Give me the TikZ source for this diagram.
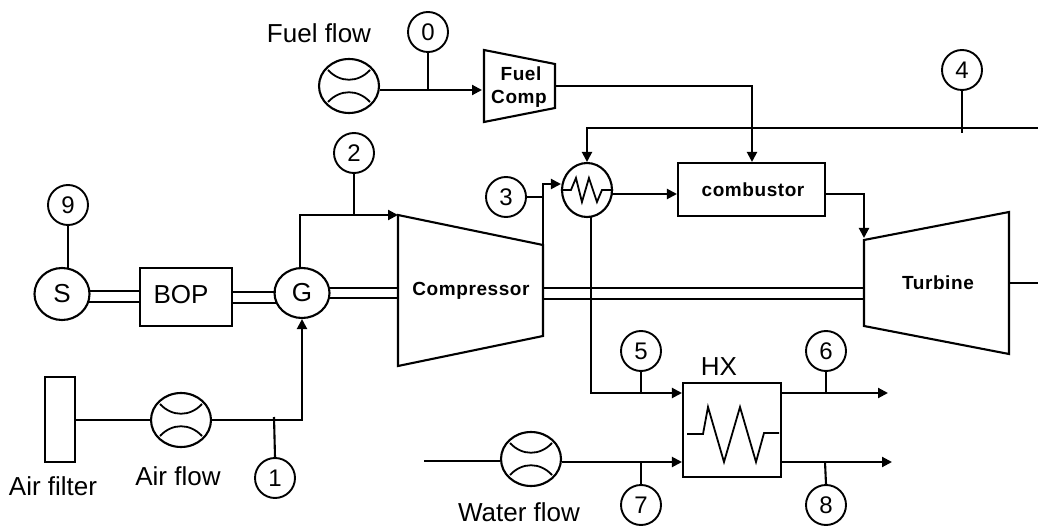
\documentclass[tikz,border=0pt]{standalone}
\usepackage{fontspec}
\setmainfont{Liberation Sans}
\newfontfamily\boldspaced[LetterSpace=3]{Liberation Sans Bold}
\usetikzlibrary{arrows.meta,shapes.geometric,calc}
\tikzset{
  ln/.style={line width=2.1pt,line join=miter},
  arr/.style={ln,-{Triangle[length=10pt,width=10pt]}},
  tag/.style={circle,draw,line width=1.9pt,minimum size=40pt,inner sep=0pt,font=\fontsize{24}{26}\selectfont},
  oval/.style={ellipse,draw,ln,inner sep=0pt},
  meter/.style={oval,minimum width=60pt,minimum height=54pt},
  box/.style={rectangle,draw,ln,inner sep=0pt},
  lbl/.style={inner sep=0pt,font=\fontsize{26}{28}\selectfont},
  blbl/.style={inner sep=0pt,font=\boldspaced\fontsize{19}{22}\selectfont,align=center},
}
\newcommand{\metercurves}[1]{%
  \draw[ln,line width=1.8pt] ($(#1.center)+(-21,-16)$) .. controls ($(#1.center)+(-9,-3)$) and ($(#1.center)+(9,-3)$) .. ($(#1.center)+(21,-16)$);
  \draw[ln,line width=1.8pt] ($(#1.center)+(-21,16)$) .. controls ($(#1.center)+(-9,3)$) and ($(#1.center)+(9,3)$) .. ($(#1.center)+(21,16)$);
}
\begin{document}
\begin{tikzpicture}[x=1pt,y=-1pt]
\useasboundingbox (0,0) rectangle (1038,529);
% tags
\node[tag] (t0) at (428,32) {0};
\node[tag] (t1) at (275,478) {1};
\node[tag] (t2) at (354,153) {2};
\node[tag] (t3) at (506,197) {3};
\node[tag] (t4) at (962,70) {4};
\node[tag] (t5) at (641,351) {5};
\node[tag] (t6) at (826,351) {6};
\node[tag] (t7) at (641,505) {7};
\node[tag] (t8) at (826,505) {8};
\node[tag] (t9) at (68,205) {9};
% meters
\node[meter] (mf) at (349,86) {};
\node[meter] (ma) at (181,420) {};
\node[meter] (mw) at (531,459) {};
\metercurves{mf}\metercurves{ma}\metercurves{mw}
% boxes and ovals
\node[box,minimum width=147pt,minimum height=53pt] (comb) at (751.5,189.5) {};
\node[blbl] at (753,190) {combustor};
\node[box,minimum width=92pt,minimum height=58pt] (bop) at (186,297) {};
\node[lbl] at (181,295) {BOP};
\node[box,minimum width=98pt,minimum height=94pt] (hx) at (732,430) {};
\node[lbl] at (719,367) {HX};
\node[box,minimum width=30pt,minimum height=85pt] (filter) at (60,419.5) {};
\node[oval,minimum width=55pt,minimum height=52pt,font=\fontsize{26}{28}\selectfont] (S) at (62,294) {S};
\node[oval,minimum width=55pt,minimum height=50pt,font=\fontsize{26}{28}\selectfont] (G) at (302,293) {G};
\node[oval,minimum width=50pt,minimum height=54pt] (rec) at (587,190) {};
% labels
\node[lbl] at (319,33) {Fuel flow};
\node[lbl] at (53,486) {Air filter};
\node[lbl] at (178,476) {Air flow};
\node[lbl] at (519,512) {Water flow};
% trapezoids
\coordinate (fc1) at (484,50); \coordinate (fc2) at (555,64); \coordinate (fc3) at (555,108); \coordinate (fc4) at (484,122);
\draw[ln] (fc1)--(fc2)--(fc3)--(fc4)--cycle;
\node[blbl] at (521,74) {Fuel};
\node[blbl] at (519,99) {Comp};
\coordinate (c1) at (398,215); \coordinate (c2) at (543,245); \coordinate (c3) at (543,336); \coordinate (c4) at (398,366);
\draw[ln] (c1)--(c2)--(c3)--(c4)--cycle;
\node[blbl] at (471,291) {Compressor};
\coordinate (tb1) at (864,240); \coordinate (tb2) at (1009,212); \coordinate (tb3) at (1009,354); \coordinate (tb4) at (864,326);
\draw[ln] (tb1)--(tb2)--(tb3)--(tb4)--cycle;
\node[blbl] at (938,283) {Turbine};
% zigzags
\draw[ln,line width=1.8pt] (rec.west) -- ++(10,0) -- ++(5,-12) -- ++(6,24) -- ++(7,-24) -- ++(8,24) -- ++(5,-12) -- (rec.east);
\draw[ln,line width=1.8pt] (687,434) -- (703,434) -- (708,407) -- (724,462) -- (740,407) -- (756,462) -- (764,433) -- (779,433);
% free ends
\coordinate (eR4) at (1038,128);
\coordinate (eRs) at (1038,283);
\coordinate (eW) at (424,461);
\coordinate (o6) at (888,393);
\coordinate (o8) at (892,462);
% fuel
\draw[arr] (mf.east |- 0,90) -- (482,90);
\draw[ln] (t0.south) -- (428,90);
\draw[arr] (555,86) -| (comb.north -| 752,0);
% exhaust line 4
\draw[arr] (eR4) -| (rec.north);
\draw[ln] (t4.south) -- (962,133);
% recuperator
\draw[ln] (t3.east) -- (543,197);
\draw[arr] (543,245) -- (543,184) -- ($(rec.west)+(0,-6)$);
\draw[arr] (612,194) -- (comb.west |- 0,194);
\draw[arr] (comb.east |- 0,194) -- (864,194) -- (864,238);
\draw[arr] (591,216) -- (591,393) -- (hx.west |- 0,393);
\draw[ln] (t5.south) -- (641,393);
% hx outputs
\draw[arr] (hx.east |- 0,393) -- (o6);
\draw[ln] (t6.south) -- (826,393);
\draw[arr] (hx.east |- 0,462) -- (o8);
\draw[ln] (t8.north) -- (825,462);
% water
\draw[ln] (eW) -- (mw.west |- 0,461);
\draw[arr] (mw.east |- 0,462) -- (hx.west |- 0,462);
\draw[ln] (t7.north) -- (641,462);
% air
\draw[ln] (filter.east |- ma.west) -- (ma.west);
\draw[arr] (ma.east) -- (302,420) -- (G.south);
\draw[ln] (t1.north) -- (274,417);
% compressor inlet
\draw[arr] (300,269) -- (300,215) -- (c1);
\draw[ln] (t2.south) -- (354,215);
\draw[ln] (t9.south) -- (68,269);
% shafts
\foreach \ya/\yb/\xa/\xb in {291/291/89/140, 302/302/88/140, 292/292/232/276, 303/303/232/276, 288/288/329/398, 298/298/330/398, 288/288/543/864, 299/299/543/864}
  \draw[ln,line width=1.8pt] (\xa,\ya) -- (\xb,\yb);
\draw[ln,line width=1.8pt] (tb2 |- 0,283) -- (eRs);
\end{tikzpicture}
\end{document}
